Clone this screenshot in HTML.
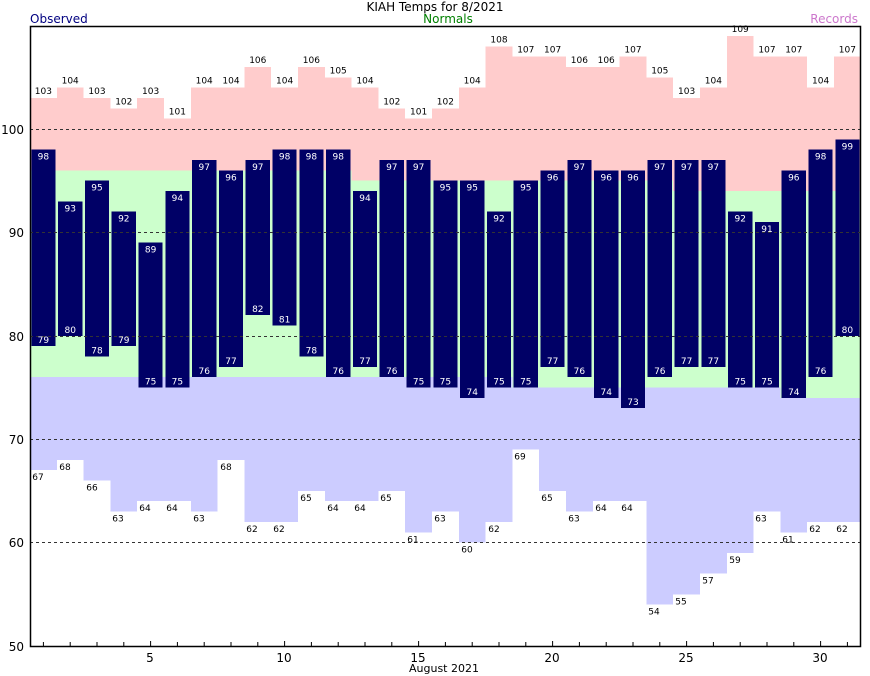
<!DOCTYPE html>
<html><head><meta charset="utf-8"><style>
body{margin:0;background:#fff}
svg{display:block;font-family:"DejaVu Sans","Liberation Sans",sans-serif}
.s text{font-size:9px;text-anchor:middle}
.w text{fill:#fff}
</style></head><body>
<svg width="870" height="676" viewBox="0 0 870 676">
<text x="435" y="11" font-size="12" text-anchor="middle">KIAH Temps for 8/2021</text>
<text x="30" y="23" font-size="12" fill="#000080">Observed</text>
<text x="448" y="23" font-size="12" fill="#008000" text-anchor="middle">Normals</text>
<text x="858" y="23" font-size="12" fill="#cc77cc" text-anchor="end">Records</text>
<g transform="translate(30,646) scale(26.8,-10.34)" shape-rendering="crispEdges">
<!-- pink: normal high to record high -->
<g fill="#ffcccc">
<rect x="0" y="46" width="1" height="7"/><rect x="1" y="46" width="1" height="8"/><rect x="2" y="46" width="1" height="7"/><rect x="3" y="46" width="1" height="6"/><rect x="4" y="46" width="1" height="7"/><rect x="5" y="46" width="1" height="5"/><rect x="6" y="46" width="1" height="8"/><rect x="7" y="46" width="1" height="8"/><rect x="8" y="46" width="1" height="10"/><rect x="9" y="46" width="1" height="8"/><rect x="10" y="46" width="1" height="10"/><rect x="11" y="46" width="1" height="9"/>
<rect x="12" y="45" width="1" height="9"/><rect x="13" y="45" width="1" height="7"/><rect x="14" y="45" width="1" height="6"/><rect x="15" y="45" width="1" height="7"/><rect x="16" y="45" width="1" height="9"/><rect x="17" y="45" width="1" height="13"/><rect x="18" y="45" width="1" height="12"/><rect x="19" y="45" width="1" height="12"/><rect x="20" y="45" width="1" height="11"/><rect x="21" y="45" width="1" height="11"/><rect x="22" y="45" width="1" height="12"/><rect x="23" y="45" width="1" height="10"/>
<rect x="24" y="44" width="1" height="9"/><rect x="25" y="44" width="1" height="10"/><rect x="26" y="44" width="1" height="15"/><rect x="27" y="44" width="1" height="13"/><rect x="28" y="44" width="1" height="13"/><rect x="29" y="44" width="1" height="10"/><rect x="30" y="44" width="1" height="13"/>
</g>
<!-- green: normal low to normal high -->
<g fill="#ccffcc">
<rect x="0" y="26" width="12" height="20"/>
<rect x="12" y="26" width="6" height="19"/>
<rect x="18" y="25" width="6" height="20"/>
<rect x="24" y="25" width="4" height="19"/>
<rect x="28" y="24" width="3" height="20"/>
</g>
<!-- blue: record low to normal low -->
<g fill="#ccccff">
<rect x="0" y="17" width="1" height="9"/><rect x="1" y="18" width="1" height="8"/><rect x="2" y="16" width="1" height="10"/><rect x="3" y="13" width="1" height="13"/><rect x="4" y="14" width="1" height="12"/><rect x="5" y="14" width="1" height="12"/><rect x="6" y="13" width="1" height="13"/><rect x="7" y="18" width="1" height="8"/><rect x="8" y="12" width="1" height="14"/><rect x="9" y="12" width="1" height="14"/><rect x="10" y="15" width="1" height="11"/><rect x="11" y="14" width="1" height="12"/><rect x="12" y="14" width="1" height="12"/><rect x="13" y="15" width="1" height="11"/><rect x="14" y="11" width="1" height="15"/><rect x="15" y="13" width="1" height="13"/><rect x="16" y="10" width="1" height="16"/><rect x="17" y="12" width="1" height="14"/>
<rect x="18" y="19" width="1" height="6"/><rect x="19" y="15" width="1" height="10"/><rect x="20" y="13" width="1" height="12"/><rect x="21" y="14" width="1" height="11"/><rect x="22" y="14" width="1" height="11"/><rect x="23" y="4" width="1" height="21"/><rect x="24" y="5" width="1" height="20"/><rect x="25" y="7" width="1" height="18"/><rect x="26" y="9" width="1" height="16"/><rect x="27" y="13" width="1" height="12"/>
<rect x="28" y="11" width="1" height="13"/><rect x="29" y="12" width="1" height="12"/><rect x="30" y="12" width="1" height="12"/>
</g>
<!-- observed -->
<g fill="#000066">
<rect x="0.05" y="29" width="0.9" height="19"/><rect x="1.05" y="30" width="0.9" height="13"/><rect x="2.05" y="28" width="0.9" height="17"/><rect x="3.05" y="29" width="0.9" height="13"/><rect x="4.05" y="25" width="0.9" height="14"/><rect x="5.05" y="25" width="0.9" height="19"/><rect x="6.05" y="26" width="0.9" height="21"/><rect x="7.05" y="27" width="0.9" height="19"/><rect x="8.05" y="32" width="0.9" height="15"/><rect x="9.05" y="31" width="0.9" height="17"/><rect x="10.05" y="28" width="0.9" height="20"/><rect x="11.05" y="26" width="0.9" height="22"/><rect x="12.05" y="27" width="0.9" height="17"/><rect x="13.05" y="26" width="0.9" height="21"/><rect x="14.05" y="25" width="0.9" height="22"/><rect x="15.05" y="25" width="0.9" height="20"/><rect x="16.05" y="24" width="0.9" height="21"/><rect x="17.05" y="25" width="0.9" height="17"/><rect x="18.05" y="25" width="0.9" height="20"/><rect x="19.05" y="27" width="0.9" height="19"/><rect x="20.05" y="26" width="0.9" height="21"/><rect x="21.05" y="24" width="0.9" height="22"/><rect x="22.05" y="23" width="0.9" height="23"/><rect x="23.05" y="26" width="0.9" height="21"/><rect x="24.05" y="27" width="0.9" height="20"/><rect x="25.05" y="27" width="0.9" height="20"/><rect x="26.05" y="25" width="0.9" height="17"/><rect x="27.05" y="25" width="0.9" height="16"/><rect x="28.05" y="24" width="0.9" height="22"/><rect x="29.05" y="26" width="0.9" height="22"/><rect x="30.05" y="30" width="0.9" height="19"/>
</g>
</g>
<g stroke="#333" stroke-dasharray="3,3" stroke-width="1">
<line x1="30" x2="860" y1="129.5" y2="129.5"/><line x1="30" x2="860" y1="232.5" y2="232.5"/><line x1="30" x2="860" y1="336.5" y2="336.5"/><line x1="30" x2="860" y1="439.5" y2="439.5"/><line x1="30" x2="860" y1="542.5" y2="542.5"/>
</g>
<rect x="30.5" y="26.5" width="830" height="620" fill="none" stroke="#000" stroke-width="1.5"/>
<g stroke="#000">
<line x1="43.4" x2="43.4" y1="646" y2="642"/><line x1="70.2" x2="70.2" y1="646" y2="642"/><line x1="97" x2="97" y1="646" y2="642"/><line x1="123.8" x2="123.8" y1="646" y2="642"/><line x1="150.6" x2="150.6" y1="646" y2="641"/><line x1="177.4" x2="177.4" y1="646" y2="642"/><line x1="204.2" x2="204.2" y1="646" y2="642"/><line x1="231" x2="231" y1="646" y2="642"/><line x1="257.8" x2="257.8" y1="646" y2="642"/><line x1="284.6" x2="284.6" y1="646" y2="641"/><line x1="311.4" x2="311.4" y1="646" y2="642"/><line x1="338.2" x2="338.2" y1="646" y2="642"/><line x1="365" x2="365" y1="646" y2="642"/><line x1="391.8" x2="391.8" y1="646" y2="642"/><line x1="418.6" x2="418.6" y1="646" y2="641"/><line x1="445.4" x2="445.4" y1="646" y2="642"/><line x1="472.2" x2="472.2" y1="646" y2="642"/><line x1="499" x2="499" y1="646" y2="642"/><line x1="525.8" x2="525.8" y1="646" y2="642"/><line x1="552.6" x2="552.6" y1="646" y2="641"/><line x1="579.4" x2="579.4" y1="646" y2="642"/><line x1="606.2" x2="606.2" y1="646" y2="642"/><line x1="633" x2="633" y1="646" y2="642"/><line x1="659.8" x2="659.8" y1="646" y2="642"/><line x1="686.6" x2="686.6" y1="646" y2="641"/><line x1="713.4" x2="713.4" y1="646" y2="642"/><line x1="740.2" x2="740.2" y1="646" y2="642"/><line x1="767" x2="767" y1="646" y2="642"/><line x1="793.8" x2="793.8" y1="646" y2="642"/><line x1="820.6" x2="820.6" y1="646" y2="641"/><line x1="847.4" x2="847.4" y1="646" y2="642"/>
</g>
<g font-size="12" text-anchor="end">
<text x="24" y="651">50</text><text x="24" y="547">60</text><text x="24" y="444">70</text><text x="24" y="341">80</text><text x="24" y="237">90</text><text x="24" y="134">100</text>
</g>
<g font-size="12" text-anchor="middle">
<text x="150" y="662">5</text><text x="284" y="662">10</text><text x="418" y="662">15</text><text x="552" y="662">20</text><text x="686" y="662">25</text><text x="820" y="662">30</text>
<text x="444" y="672" font-size="11">August 2021</text>
</g>
<!-- record highs -->
<g class="s" transform="translate(0,-4)">
<text x="43.4" y="98">103</text><text x="70.2" y="87.7">104</text><text x="97" y="98">103</text><text x="123.8" y="108.3">102</text><text x="150.6" y="98">103</text><text x="177.4" y="118.7">101</text><text x="204.2" y="87.7">104</text><text x="231" y="87.7">104</text><text x="257.8" y="67">106</text><text x="284.6" y="87.7">104</text><text x="311.4" y="67">106</text><text x="338.2" y="77.3">105</text><text x="365" y="87.7">104</text><text x="391.8" y="108.3">102</text><text x="418.6" y="118.7">101</text><text x="445.4" y="108.3">102</text><text x="472.2" y="87.7">104</text><text x="499" y="46.3">108</text><text x="525.8" y="56.6">107</text><text x="552.6" y="56.6">107</text><text x="579.4" y="67">106</text><text x="606.2" y="67">106</text><text x="633" y="56.6">107</text><text x="659.8" y="77.3">105</text><text x="686.6" y="98">103</text><text x="713.4" y="87.7">104</text><text x="740.2" y="35.9">109</text><text x="767" y="56.6">107</text><text x="793.8" y="56.6">107</text><text x="820.6" y="87.7">104</text><text x="847.4" y="56.6">107</text>
</g>
<!-- observed highs -->
<g class="s w" transform="translate(0,10)">
<text x="43.4" y="149.7">98</text><text x="70.2" y="201.4">93</text><text x="97" y="180.7">95</text><text x="123.8" y="211.7">92</text><text x="150.6" y="242.7">89</text><text x="177.4" y="191">94</text><text x="204.2" y="160">97</text><text x="231" y="170.4">96</text><text x="257.8" y="160">97</text><text x="284.6" y="149.7">98</text><text x="311.4" y="149.7">98</text><text x="338.2" y="149.7">98</text><text x="365" y="191">94</text><text x="391.8" y="160">97</text><text x="418.6" y="160">97</text><text x="445.4" y="180.7">95</text><text x="472.2" y="180.7">95</text><text x="499" y="211.7">92</text><text x="525.8" y="180.7">95</text><text x="552.6" y="170.4">96</text><text x="579.4" y="160">97</text><text x="606.2" y="170.4">96</text><text x="633" y="170.4">96</text><text x="659.8" y="160">97</text><text x="686.6" y="160">97</text><text x="713.4" y="160">97</text><text x="740.2" y="211.7">92</text><text x="767" y="222.1">91</text><text x="793.8" y="170.4">96</text><text x="820.6" y="149.7">98</text><text x="847.4" y="139.3">99</text>
</g>
<!-- observed lows -->
<g class="s w" transform="translate(0,-3)">
<text x="43.4" y="346.1">79</text><text x="70.2" y="335.8">80</text><text x="97" y="356.5">78</text><text x="123.8" y="346.1">79</text><text x="150.6" y="387.5">75</text><text x="177.4" y="387.5">75</text><text x="204.2" y="377.2">76</text><text x="231" y="366.8">77</text><text x="257.8" y="315.1">82</text><text x="284.6" y="325.5">81</text><text x="311.4" y="356.5">78</text><text x="338.2" y="377.2">76</text><text x="365" y="366.8">77</text><text x="391.8" y="377.2">76</text><text x="418.6" y="387.5">75</text><text x="445.4" y="387.5">75</text><text x="472.2" y="397.8">74</text><text x="499" y="387.5">75</text><text x="525.8" y="387.5">75</text><text x="552.6" y="366.8">77</text><text x="579.4" y="377.2">76</text><text x="606.2" y="397.8">74</text><text x="633" y="408.2">73</text><text x="659.8" y="377.2">76</text><text x="686.6" y="366.8">77</text><text x="713.4" y="366.8">77</text><text x="740.2" y="387.5">75</text><text x="767" y="387.5">75</text><text x="793.8" y="397.8">74</text><text x="820.6" y="377.2">76</text><text x="847.4" y="335.8">80</text>
</g>
<!-- record lows -->
<g class="s" transform="translate(0,10)">
<text x="38" y="470.2">67</text><text x="65" y="459.9">68</text><text x="92" y="480.6">66</text><text x="118" y="511.6">63</text><text x="145" y="501.2">64</text><text x="172" y="501.2">64</text><text x="199" y="511.6">63</text><text x="226" y="459.9">68</text><text x="252" y="521.9">62</text><text x="279" y="521.9">62</text><text x="306" y="490.9">65</text><text x="333" y="501.2">64</text><text x="360" y="501.2">64</text><text x="386" y="490.9">65</text><text x="413" y="532.3">61</text><text x="440" y="511.6">63</text><text x="467" y="542.6">60</text><text x="494" y="521.9">62</text><text x="520" y="449.5">69</text><text x="547" y="490.9">65</text><text x="574" y="511.6">63</text><text x="601" y="501.2">64</text><text x="627" y="501.2">64</text><text x="654" y="604.6">54</text><text x="681" y="594.3">55</text><text x="708" y="573.6">57</text><text x="735" y="552.9">59</text><text x="761" y="511.6">63</text><text x="788" y="532.3">61</text><text x="815" y="521.9">62</text><text x="842" y="521.9">62</text>
</g>
</svg>
</body></html>
